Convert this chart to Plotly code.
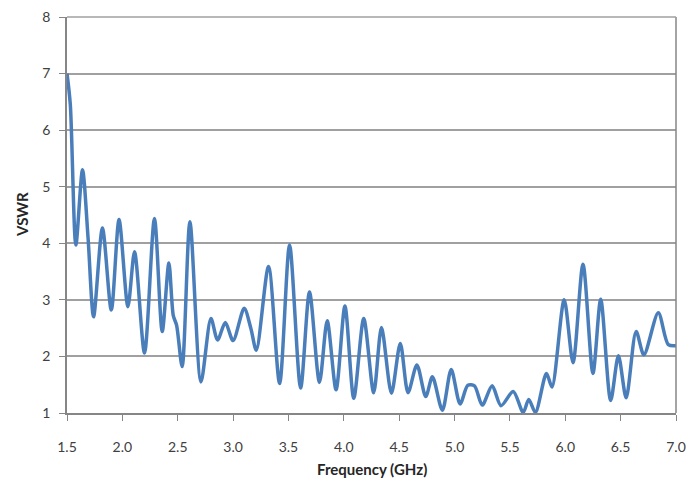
import plotly.graph_objects as go

# frequency (GHz) and VSWR
freq = [1.50, 1.53, 1.58, 1.64, 1.69, 1.74, 1.82, 1.90, 1.97, 2.05, 2.11, 2.20, 2.29,
        2.36, 2.42, 2.46, 2.49, 2.54, 2.61, 2.71, 2.80, 2.86, 2.93, 3.00, 3.10, 3.16,
        3.21, 3.32, 3.42, 3.51, 3.61, 3.69, 3.78, 3.85, 3.93, 4.01, 4.09, 4.18, 4.27,
        4.34, 4.43, 4.51, 4.58, 4.66, 4.74, 4.80, 4.89, 4.97, 5.05, 5.12, 5.18, 5.25,
        5.34, 5.42, 5.53, 5.62, 5.67, 5.73, 5.83, 5.88, 5.99, 6.07, 6.16, 6.25, 6.32,
        6.41, 6.48, 6.55, 6.64, 6.71, 6.84, 6.93, 7.00]
vswr = [7.00, 6.45, 3.97, 5.30, 4.10, 2.70, 4.27, 2.82, 4.42, 2.88, 3.85, 2.06, 4.44,
        2.44, 3.65, 2.72, 2.55, 1.82, 4.38, 1.55, 2.67, 2.29, 2.60, 2.28, 2.85, 2.50,
        2.11, 3.59, 1.52, 3.97, 1.44, 3.14, 1.54, 2.63, 1.41, 2.89, 1.26, 2.67, 1.36,
        2.51, 1.35, 2.23, 1.36, 1.85, 1.29, 1.64, 1.05, 1.77, 1.16, 1.49, 1.48, 1.14,
        1.48, 1.13, 1.38, 1.01, 1.24, 1.01, 1.70, 1.46, 3.00, 1.89, 3.63, 1.70, 3.01,
        1.22, 2.01, 1.27, 2.44, 2.03, 2.77, 2.21, 2.19]

x_ticks = [1.5, 2.0, 2.5, 3.0, 3.5, 4.0, 4.5, 5.0, 5.5, 6.0, 6.5, 7.0]

fig = go.Figure()
fig.add_trace(go.Scatter(x=freq, y=vswr, mode="lines",
                         line=dict(color="#4a7ebb", width=3.5, shape="spline", smoothing=0.8),
                         showlegend=False))

fig.update_layout(
    width=696, height=483,
    margin=dict(l=67, r=20, t=17, b=70, autoexpand=False),
    paper_bgcolor="white", plot_bgcolor="white",
    font=dict(family="Lato, Open Sans, sans-serif", size=14, color="#404040"),
)
fig.update_xaxes(
    range=[1.5, 7.0], tickvals=x_ticks, ticktext=[f"{v:.1f}" for v in x_ticks],
    showgrid=False, showline=True, linecolor="#868686", linewidth=1.5,
    ticks="outside", ticklen=6, tickcolor="#868686", zeroline=False,
    ticklabelstandoff=14, automargin=False,
)
fig.update_yaxes(
    range=[1, 8], dtick=1, showgrid=True, gridcolor="#a0a0a0", gridwidth=1.5,
    showline=True, linecolor="#868686", linewidth=1.5,
    ticks="outside", ticklen=6, tickcolor="#868686", zeroline=False,
    ticklabelstandoff=6, automargin=False,
)
fig.update_layout(
    shapes=[
        # right border and top grid line of the plot area
        dict(type="line", xref="paper", yref="paper", x0=1, x1=1, y0=0, y1=1,
             line=dict(color="#868686", width=1.5)),
        dict(type="line", xref="paper", yref="paper", x0=0, x1=1, y0=1, y1=1,
             line=dict(color="#a0a0a0", width=1.5)),
    ],
    annotations=[
        dict(text="<b>Frequency (GHz)</b>", xref="paper", yref="paper", x=0.5, y=0,
             xanchor="center", yanchor="middle", yshift=-56, showarrow=False,
             font=dict(size=15, color="#262626")),
        dict(text="<b>VSWR</b>", xref="paper", yref="paper", x=0, y=0.5,
             xanchor="center", yanchor="middle", xshift=-45, textangle=-90,
             showarrow=False, font=dict(size=15, color="#262626")),
    ],
)

fig.write_html("out.html", config={"displayModeBar": False},
               post_script="document.body.style.margin='0';")
